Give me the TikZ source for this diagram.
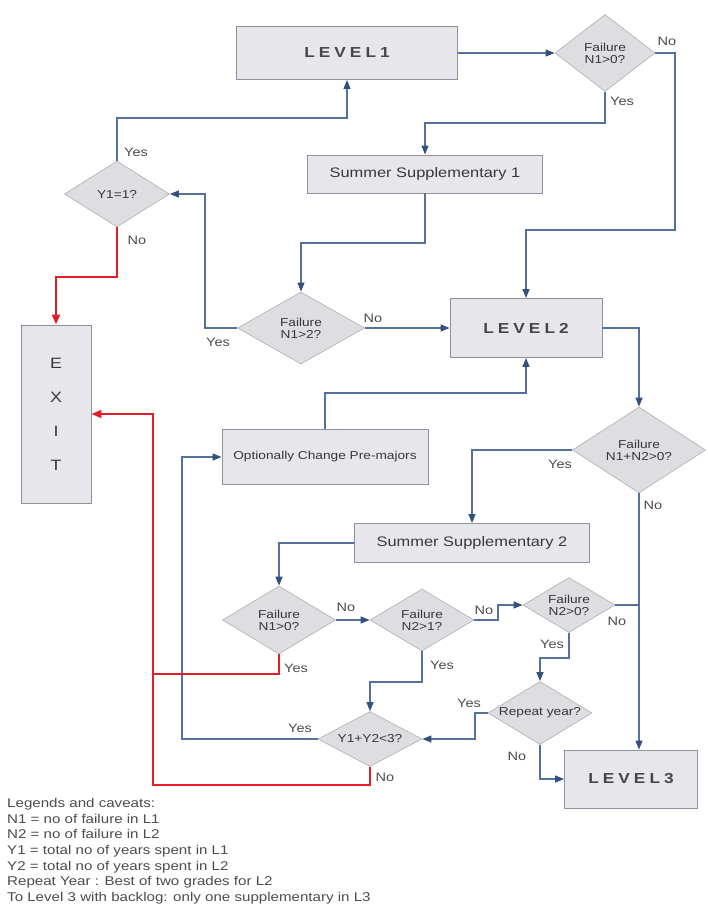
\documentclass[tikz,border=0pt]{standalone}
\usepackage{fontspec}
\setmainfont{Liberation Sans}[FakeStretch=1.19]
\newfontfamily\lvfont{Liberation Sans}[FakeStretch=1.19,LetterSpace=28]
\usetikzlibrary{shapes.geometric,arrows.meta,calc}
\definecolor{linecol}{RGB}{84,112,158}
\definecolor{tipcol}{RGB}{52,80,125}
\definecolor{redcol}{RGB}{228,30,40}
\definecolor{boxfill}{RGB}{231,231,235}
\definecolor{boxdraw}{RGB}{140,145,158}
\definecolor{diafill}{RGB}{222,222,224}
\definecolor{diadraw}{RGB}{185,185,192}
\definecolor{txt}{RGB}{55,55,60}
\definecolor{lbl}{RGB}{75,75,80}
\begin{document}
\begin{tikzpicture}[x=1pt,y=-1pt,
  box/.style={rectangle, fill=boxfill, draw=boxdraw, line width=0.9pt, inner sep=0pt, text=txt},
  dia/.style={diamond, shape aspect=1.7, fill=diafill, draw=diadraw, line width=0.8pt, inner sep=0pt, align=center, text=txt, font=\fontsize{11.5}{12}\selectfont},
  flow/.style={draw=linecol, line width=1.2pt, -{Triangle[length=9pt,width=7pt,color=tipcol]}},
  plain/.style={draw=linecol, line width=1.2pt},
  redflow/.style={draw=redcol, line width=2pt, -{Triangle[length=10pt,width=8pt]}},
  redplain/.style={draw=redcol, line width=2pt},
  lab/.style={text=lbl, font=\fontsize{12.2}{13}\selectfont, inner sep=0pt},
  lvl/.style={font=\lvfont\bfseries\fontsize{14.5}{16}\selectfont, text=black!72}
]
\useasboundingbox (0,0) rectangle (708,905);

% nodes
\node[box, minimum width=221pt, minimum height=53pt, lvl] (L1) at (347,53) {LEVEL1};
\node[dia, minimum width=100pt, minimum height=77pt] (D1) at (605,53) {Failure\\N1>0?};
\node[box, minimum width=235pt, minimum height=38pt, font=\fontsize{13.8}{15}\selectfont] (SS1) at (425,174) {Summer Supplementary 1};
\node[dia, minimum width=127pt, minimum height=72pt] (D2) at (301,328) {Failure\\N1>2?};
\node[dia, minimum width=105pt, minimum height=66pt] (Y1) at (117,194) {Y1=1?};
\node[box, minimum width=70pt, minimum height=178pt, align=center, font=\fontsize{15}{34}\selectfont] (EXIT) at (56,414) {E\\X\\I\\T};
\node[box, minimum width=152pt, minimum height=59pt, lvl] (L2) at (526,328) {LEVEL2};
\node[box, minimum width=206pt, minimum height=55pt, font=\fontsize{11.5}{13}\selectfont] (OPT) at (325,457) {Optionally Change Pre-majors};
\node[dia, minimum width=133pt, minimum height=86pt] (D4) at (639,450) {Failure\\N1+N2>0?};
\node[box, minimum width=235pt, minimum height=39pt, font=\fontsize{13.8}{15}\selectfont] (SS2) at (472,543) {Summer Supplementary 2};
\node[dia, minimum width=113pt, minimum height=68pt] (D3) at (279,620) {Failure\\N1>0?};
\node[dia, minimum width=104pt, minimum height=62pt] (D5) at (422,620) {Failure\\N2>1?};
\node[dia, minimum width=92pt, minimum height=55pt] (D6) at (569,605) {Failure\\N2>0?};
\node[dia, minimum width=104pt, minimum height=63pt] (D8) at (540,713) {Repeat year?};
\node[dia, minimum width=104pt, minimum height=55pt] (D7) at (370,739) {Y1+Y2<3?};
\node[box, minimum width=133pt, minimum height=58pt, lvl] (L3) at (631,779) {LEVEL3};

% bend points
\coordinate (k1) at (675,230);
\coordinate (k2) at (425,123);
\coordinate (k3) at (301,243);
\coordinate (k4) at (205,194);
\coordinate (k5) at (347,118);
\coordinate (k6) at (56,277);
\coordinate (k7) at (526,393);
\coordinate (k8) at (498,605);
\coordinate (k9) at (540,658);
\coordinate (k10) at (475,739);
\coordinate (k11) at (370,682);
\coordinate (k12) at (182,457);
\coordinate (k13) at (153,674);
\coordinate (k14) at (153,785);

% connectors
\draw[flow] (L1.east) -- (D1.west);
\draw[flow] (D1.east) -| (k1) -| (L2.north);
\draw[flow] (D1.south) |- (k2) -- (SS1.north);
\draw[flow] (SS1.south) |- (k3) -- (D2.north);
\draw[flow] (D2.east) -- (L2.west);
\draw[flow] (D2.west) -| (k4) -- (Y1.east);
\draw[flow] (Y1.north) |- (k5) -- (L1.south);
\draw[redflow] (Y1.south) |- (k6) -- (EXIT.north);
\draw[flow] (L2.east) -| (D4.north);
\draw[flow] (OPT.north) |- (k7) -- (L2.south);
\draw[flow] (D4.west) -| (SS2.north);
\draw[flow] (D4.south) -- (D4.south |- L3.north);
\draw[flow] (SS2.west) -| (D3.north);
\draw[flow] (D3.east) -- (D5.west);
\draw[flow] (D5.east) -| (k8) -- (D6.west);
\draw[plain] (D6.east) -- (D6.east -| D4.south);
\draw[flow] (D6.south) |- (k9) -- (D8.north);
\draw[flow] (D8.west) -| (k10) -- (D7.east);
\draw[flow] (D8.south) |- (L3.west);
\draw[flow] (D5.south) |- (k11) -- (D7.north);
\draw[flow] (D7.west) -| (k12) -- (OPT.west);
\draw[redplain] (D3.south) |- (k13);
\draw[redflow] (D7.south) |- (k14) |- (EXIT.east);

% labels
\node[lab] (t1) at (667,41) {No};
\node[lab] (t2) at (622,101) {Yes};
\node[lab] (t3) at (136,152) {Yes};
\node[lab] (t4) at (137,240) {No};
\node[lab] (t5) at (218,342) {Yes};
\node[lab] (t6) at (373,318) {No};
\node[lab] (t7) at (560,464) {Yes};
\node[lab] (t8) at (653,505) {No};
\node[lab] (t9) at (346,607) {No};
\node[lab] (t10) at (296,668) {Yes};
\node[lab] (t11) at (484,610) {No};
\node[lab] (t12) at (442,665) {Yes};
\node[lab] (t13) at (617,621) {No};
\node[lab] (t14) at (552,644) {Yes};
\node[lab] (t15) at (469,703) {Yes};
\node[lab] (t16) at (517,756) {No};
\node[lab] (t17) at (300,728) {Yes};
\node[lab] (t18) at (385,777) {No};

% legend
\node[anchor=north west, align=left, inner sep=0pt, text=lbl, font=\fontsize{12.7}{15.7}\selectfont] (legend) at (7,798)
{Legends and caveats:\\
N1 = no of failure in L1\\
N2 = no of failure in L2\\
Y1 = total no of years spent in L1\\
Y2 = total no of years spent in L2\\
Repeat Year : Best of two grades for L2\\
To Level 3 with backlog: only one supplementary in L3};
\end{tikzpicture}
\end{document}
